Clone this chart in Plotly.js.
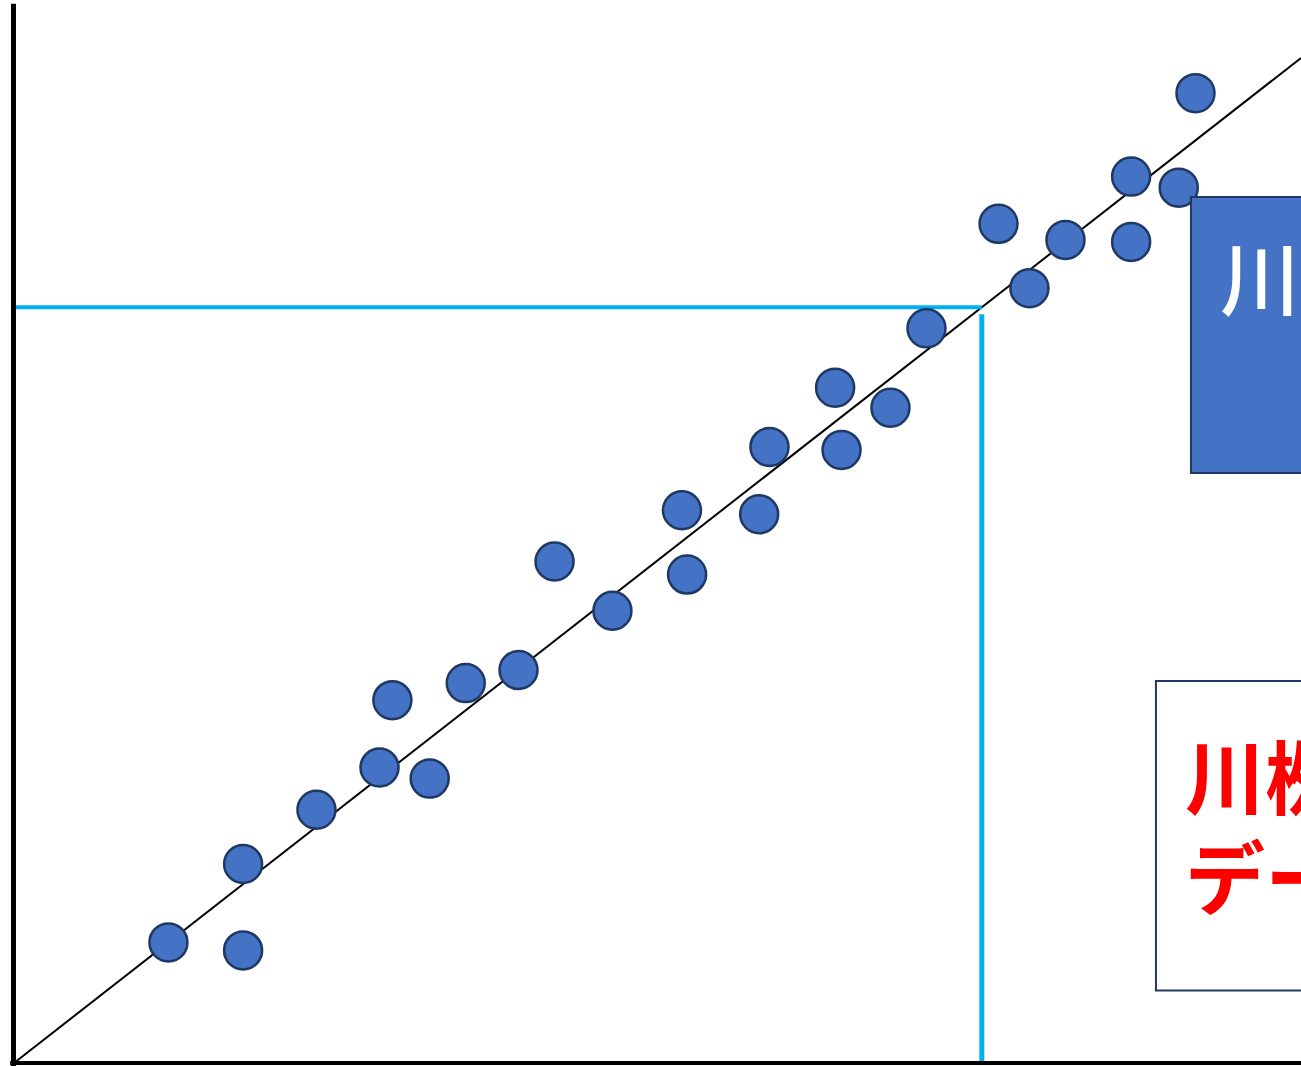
<!DOCTYPE html>
<html>
<head>
<meta charset="utf-8">
<script src="https://cdn.plot.ly/plotly-3.0.1.min.js"></script>
<style>
html, body { margin: 0; padding: 0; background: #ffffff; }
#chart { width: 1301px; height: 1066px; }
</style>
</head>
<body>
<div id="chart"></div>
<script>
// Scatter data (axis units 0..100)
const pointX = [12.0, 17.8, 17.8, 23.5, 28.4, 29.4, 32.3, 35.1, 39.2, 42.0, 46.5, 51.9, 52.3, 57.9, 58.7, 63.8, 64.3, 68.1, 70.9, 76.5, 78.9, 81.7, 86.8, 86.8, 90.5, 91.8];
const pointY = [12.0, 11.2, 19.8, 25.2, 29.4, 36.1, 28.3, 37.8, 39.1, 49.9, 45.0, 55.0, 48.6, 54.6, 61.3, 67.2, 61.0, 65.2, 73.1, 83.5, 77.1, 81.9, 88.2, 81.7, 87.1, 96.5];

// Fitted line endpoints
const fitX = [0, 100];
const fitY = [0, 100];

// Reference reading (cyan guide lines)
const refX = 75.2;
const refY = 75.2;

// Label texts
const blueLabel = "川桝";
const redLine1 = "川桝";
const redLine2 = "データ";

const xRange = [-1.088, 100];
const yRange = [-0.299, 105.77];

const cjk = '"Noto Sans CJK JP", "Noto Sans CJK SC", sans-serif';

const traces = [
  { x: fitX, y: fitY, mode: 'lines', line: { color: '#000000', width: 2 }, hoverinfo: 'skip' },
  { x: [0, refX], y: [refY, refY], mode: 'lines', line: { color: '#00B0F0', width: 4 }, hoverinfo: 'skip' },
  { x: [refX, refX], y: [0, refY - 0.7], mode: 'lines', line: { color: '#00B0F0', width: 5 }, hoverinfo: 'skip' },
  { x: pointX, y: pointY, mode: 'markers', marker: { size: 38, color: '#4472C4', line: { color: '#1F3864', width: 2.5 } }, hoverinfo: 'skip' }
];

const layout = {
  width: 1301, height: 1066,
  margin: { l: 0, r: 0, t: 0, b: 0, pad: 0 },
  paper_bgcolor: '#ffffff', plot_bgcolor: '#ffffff',
  showlegend: false, hovermode: false,
  xaxis: { range: xRange, visible: false, fixedrange: true },
  yaxis: { range: yRange, visible: false, fixedrange: true },
  shapes: [
    // axes
    { type: 'line', xref: 'x', yref: 'y', x0: -0.04, x1: -0.04, y0: -0.3, y1: 105.4, line: { color: '#000000', width: 5 }, layer: 'above' },
    { type: 'line', xref: 'x', yref: 'y', x0: -0.3, x1: 100, y0: 0, y1: 0, line: { color: '#000000', width: 4 }, layer: 'above' },
    // blue box
    { type: 'rect', xref: 'x', yref: 'y', x0: 91.45, x1: 105, y0: 58.71, y1: 86.17, fillcolor: '#4472C4', line: { color: '#1F3864', width: 2 }, layer: 'above' },
    // white box
    { type: 'rect', xref: 'x', yref: 'y', x0: 88.73, x1: 105, y0: 7.21, y1: 38.01, fillcolor: '#ffffff', line: { color: '#1F3864', width: 2 }, layer: 'above' }
  ],
  annotations: [
    { xref: 'x', yref: 'y', x: 93.55, y: 84.5, xanchor: 'left', yanchor: 'top', text: blueLabel, showarrow: false,
      font: { family: cjk, size: 80, color: '#ffffff', weight: 500 }, align: 'left' },
    { xref: 'x', yref: 'y', x: 90.83, y: 34.8, xanchor: 'left', yanchor: 'top', text: redLine1, showarrow: false,
      font: { family: cjk, size: 80, color: '#FF0000', weight: 'bold' }, align: 'left' },
    { xref: 'x', yref: 'y', x: 90.83, y: 24.85, xanchor: 'left', yanchor: 'top', text: redLine2, showarrow: false,
      font: { family: cjk, size: 80, color: '#FF0000', weight: 'bold' }, align: 'left' }
  ]
};

Plotly.newPlot('chart', traces, layout, { staticPlot: true, displayModeBar: false });
</script>
</body>
</html>
